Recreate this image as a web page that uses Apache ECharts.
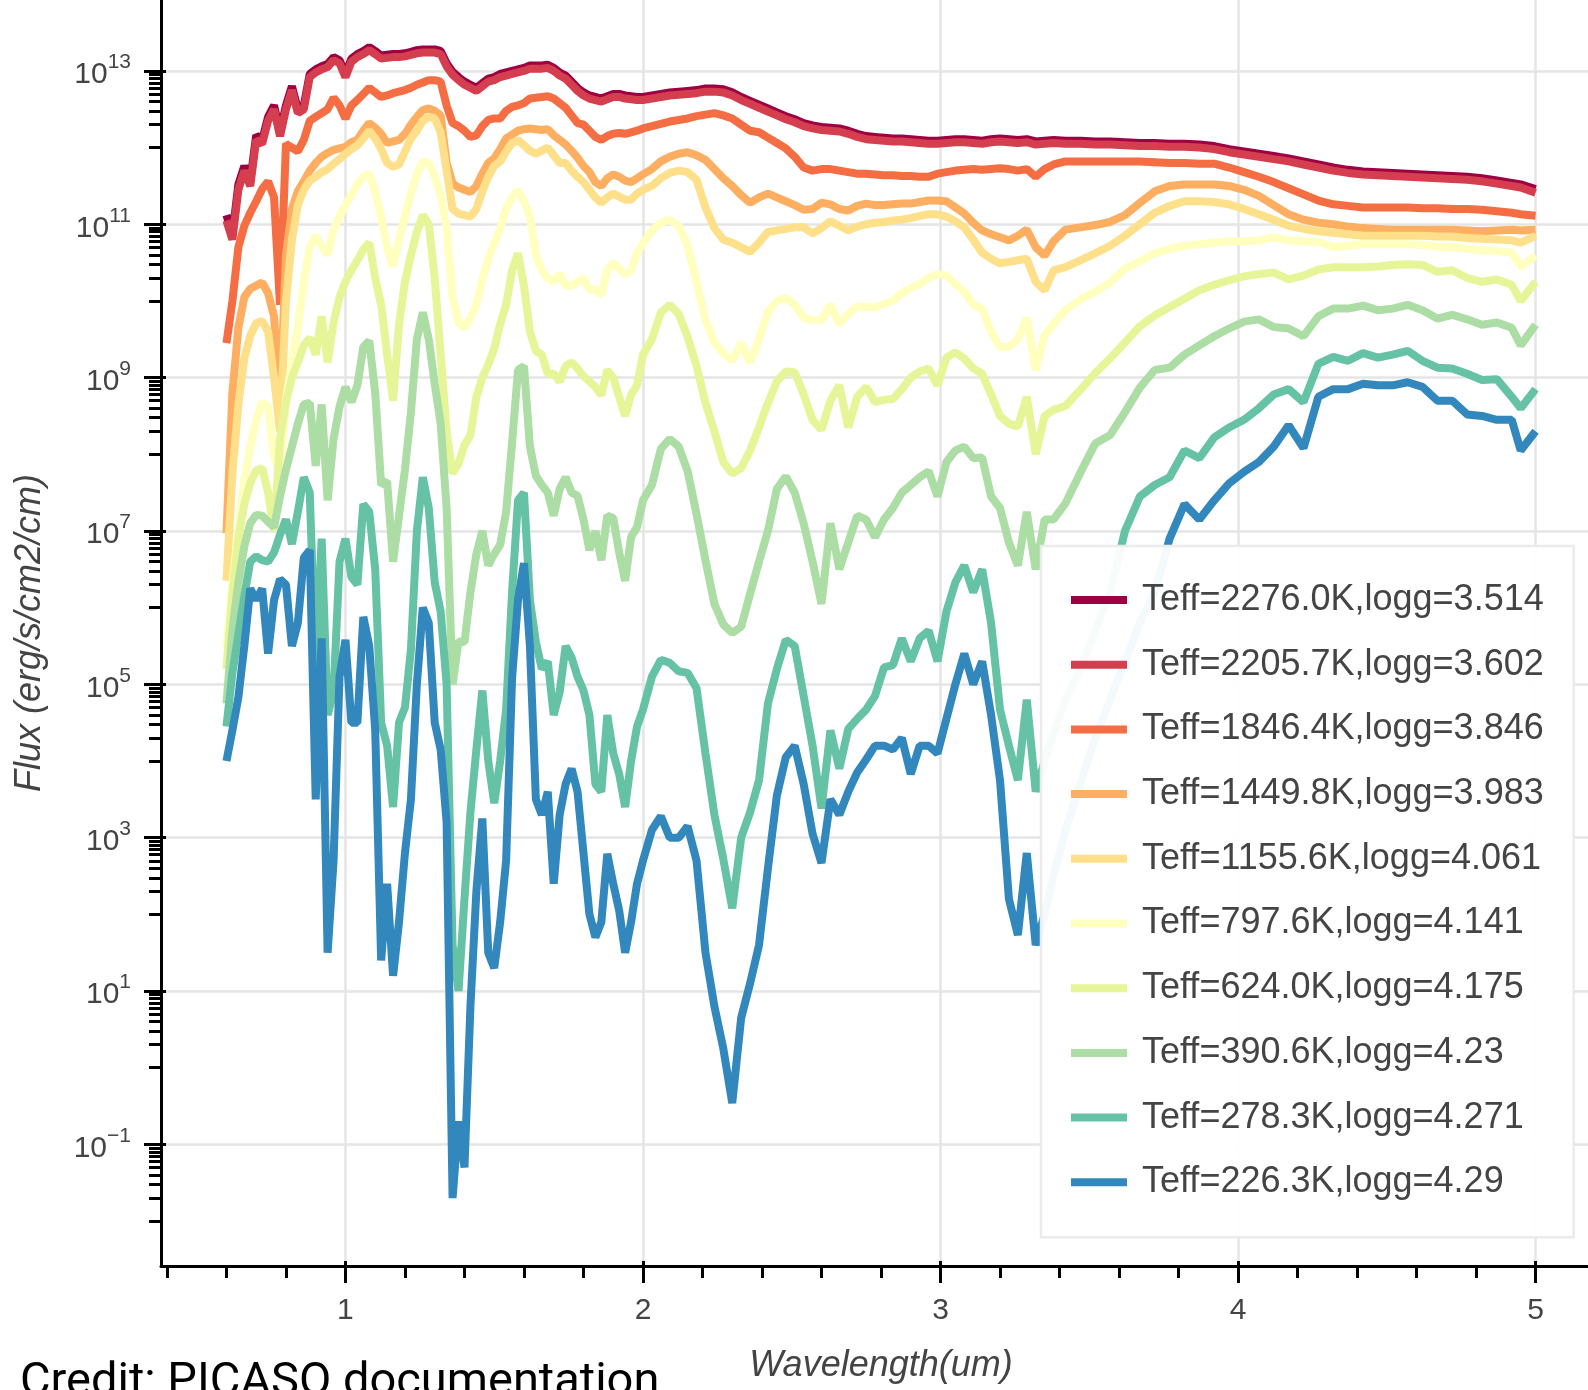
<!DOCTYPE html>
<html>
<head>
<meta charset="utf-8">
<script src="https://cdn.jsdelivr.net/npm/echarts@6/dist/echarts.min.js"></script>
<style>
  html, body { margin: 0; padding: 0; background: #fff; }
  #chart { width: 1588px; height: 1390px; }
</style>
</head>
<body>
<div id="chart"></div>
<script>
// wavelength grid (um), shared by every spectrum
const wavelength = [
  0.60, 0.62, 0.64, 0.66, 0.68, 0.70, 0.72, 0.74, 0.76, 0.78,
  0.80, 0.82, 0.84, 0.86, 0.88, 0.90, 0.92, 0.94, 0.96, 0.98,
  1.00, 1.02, 1.04, 1.06, 1.08, 1.10, 1.12, 1.14, 1.16, 1.18,
  1.20, 1.22, 1.24, 1.26, 1.28, 1.30, 1.32, 1.34, 1.36, 1.38,
  1.40, 1.42, 1.44, 1.46, 1.48, 1.50, 1.52, 1.54, 1.56, 1.58,
  1.60, 1.62, 1.64, 1.66, 1.68, 1.70, 1.72, 1.74, 1.76, 1.78,
  1.80, 1.82, 1.84, 1.86, 1.88, 1.90, 1.92, 1.94, 1.96, 1.98,
  2.00,
  2.03, 2.06, 2.09, 2.12, 2.15, 2.18, 2.21, 2.24, 2.27, 2.30,
  2.33, 2.36, 2.39, 2.42, 2.45, 2.48, 2.51, 2.54, 2.57, 2.60,
  2.63, 2.66, 2.69, 2.72, 2.75, 2.78, 2.81, 2.84, 2.87, 2.90,
  2.93, 2.96, 2.99, 3.02, 3.05, 3.08, 3.11, 3.14, 3.17, 3.20,
  3.23, 3.26, 3.29, 3.32, 3.35, 3.38,
  3.42, 3.47, 3.52, 3.57, 3.62, 3.67, 3.72, 3.77, 3.82, 3.87,
  3.92, 3.97, 4.02, 4.07, 4.12, 4.17, 4.22, 4.27, 4.32, 4.37,
  4.42, 4.47, 4.52, 4.57, 4.62, 4.67, 4.72, 4.77, 4.82, 4.87,
  4.92, 4.95, 5.00
];

// log10 of flux (erg/s/cm2/cm)
const flux2276 = [
  11.12, 10.86, 11.52, 11.76, 11.56, 12.16, 12.1, 12.4, 12.55, 12.2,
  12.55, 12.8, 12.5, 12.55, 12.96, 13.02, 13.06, 13.09, 13.18, 13.14,
  12.96, 13.16, 13.22, 13.26, 13.31, 13.26, 13.2, 13.21, 13.22, 13.22,
  13.23, 13.25, 13.27, 13.28, 13.28, 13.28, 13.26, 13.1, 12.99, 12.92,
  12.86, 12.82, 12.78, 12.84, 12.9, 12.92, 12.96, 12.98, 13.0, 13.02,
  13.04, 13.07, 13.07, 13.07, 13.08, 13.04, 12.98, 12.94, 12.86, 12.78,
  12.72, 12.68, 12.66, 12.64, 12.67, 12.7, 12.7, 12.68, 12.67, 12.66,
  12.66,
  12.68, 12.7, 12.72, 12.73, 12.74, 12.75, 12.77, 12.77, 12.76, 12.72,
  12.66, 12.61, 12.56, 12.51, 12.46, 12.41, 12.37, 12.32, 12.29, 12.27,
  12.26, 12.25, 12.22, 12.18, 12.15, 12.14, 12.13, 12.12, 12.12, 12.11,
  12.1, 12.09, 12.09, 12.1, 12.11, 12.11, 12.1, 12.09, 12.11, 12.12,
  12.11, 12.1, 12.11, 12.08, 12.09, 12.1,
  12.09, 12.09, 12.08, 12.08, 12.07, 12.06, 12.06, 12.05, 12.05, 12.04,
  12.02, 11.98, 11.95, 11.92, 11.89, 11.86, 11.82, 11.78, 11.74, 11.71,
  11.69, 11.68, 11.67, 11.66, 11.65, 11.64, 11.63, 11.62, 11.6, 11.57,
  11.54, 11.52, 11.46
];
const flux2206 = [
  11.05, 10.8, 11.45, 11.7, 11.5, 12.1, 12.05, 12.35, 12.5, 12.15,
  12.5, 12.75, 12.45, 12.5, 12.92, 12.98, 13.02, 13.05, 13.14, 13.1,
  12.92, 13.12, 13.18, 13.22, 13.27, 13.22, 13.16, 13.17, 13.18, 13.18,
  13.19, 13.21, 13.23, 13.24, 13.24, 13.24, 13.22, 13.06, 12.95, 12.88,
  12.82, 12.78, 12.74, 12.8, 12.86, 12.88, 12.92, 12.94, 12.96, 12.98,
  13.0, 13.03, 13.03, 13.03, 13.04, 13.0, 12.94, 12.9, 12.82, 12.74,
  12.68, 12.64, 12.62, 12.6, 12.63, 12.66, 12.66, 12.64, 12.63, 12.62,
  12.62,
  12.64, 12.66, 12.68, 12.69, 12.7, 12.71, 12.73, 12.73, 12.72, 12.68,
  12.62, 12.57, 12.52, 12.47, 12.42, 12.37, 12.33, 12.28, 12.25, 12.23,
  12.22, 12.21, 12.18, 12.14, 12.11, 12.1, 12.09, 12.08, 12.08, 12.07,
  12.06, 12.05, 12.05, 12.06, 12.07, 12.07, 12.06, 12.05, 12.07, 12.08,
  12.07, 12.06, 12.07, 12.04, 12.05, 12.06,
  12.05, 12.05, 12.04, 12.04, 12.03, 12.02, 12.02, 12.01, 12.01, 12.0,
  11.98, 11.94, 11.91, 11.88, 11.85, 11.82, 11.78, 11.74, 11.7, 11.67,
  11.65, 11.64, 11.63, 11.62, 11.61, 11.6, 11.59, 11.58, 11.56, 11.53,
  11.5, 11.48, 11.41
];
const flux1846 = [
  9.45, 10.0, 10.7, 10.98, 11.15, 11.3, 11.46, 11.56, 11.35, 9.95,
  12.05, 12.0, 11.95, 12.1, 12.35, 12.4, 12.45, 12.5, 12.65, 12.55,
  12.38, 12.55, 12.62, 12.7, 12.78, 12.72, 12.66, 12.68, 12.71, 12.73,
  12.75, 12.78, 12.82, 12.85, 12.88, 12.88, 12.86, 12.55, 12.32, 12.28,
  12.22, 12.14, 12.16, 12.28, 12.36, 12.38, 12.38, 12.48, 12.53, 12.55,
  12.58, 12.64, 12.65, 12.66, 12.67, 12.64, 12.58, 12.52, 12.42, 12.32,
  12.3, 12.22, 12.14, 12.1, 12.15, 12.18, 12.19, 12.18, 12.2, 12.22,
  12.25,
  12.28, 12.31, 12.34, 12.36, 12.38, 12.41, 12.43, 12.45, 12.42, 12.38,
  12.3, 12.22, 12.2, 12.13, 12.06, 11.99, 11.88, 11.74, 11.7, 11.72,
  11.72, 11.7, 11.68, 11.66, 11.66, 11.65, 11.64, 11.64, 11.63, 11.63,
  11.62, 11.62, 11.66, 11.68, 11.7, 11.71, 11.72, 11.71, 11.72, 11.73,
  11.72, 11.7, 11.72, 11.62, 11.72, 11.78,
  11.82, 11.82, 11.82, 11.82, 11.82, 11.82, 11.81, 11.8, 11.8, 11.79,
  11.79, 11.74, 11.68, 11.62, 11.55, 11.47, 11.39, 11.31, 11.26, 11.24,
  11.22, 11.22, 11.22, 11.22, 11.21, 11.21, 11.2, 11.2, 11.19, 11.17,
  11.15, 11.13, 11.11
];
const flux1450 = [
  6.97, 8.8, 9.65, 10.05, 10.16, 10.2, 10.24, 10.1, 9.8, 8.6,
  10.6, 11.2, 11.43, 11.56, 11.7, 11.8, 11.88, 11.93, 11.97, 11.99,
  12.01, 12.07, 12.1, 12.22, 12.32, 12.26, 12.18, 12.06, 12.08, 12.1,
  12.18, 12.3, 12.4, 12.49, 12.51, 12.48, 12.42, 11.8, 11.53, 11.48,
  11.45, 11.42, 11.5, 11.66, 11.8, 11.86, 11.98, 12.12, 12.17, 12.22,
  12.24, 12.25, 12.24, 12.23, 12.24, 12.16, 12.1, 12.04, 11.96, 11.87,
  11.76, 11.68, 11.55, 11.5, 11.6, 11.65, 11.62, 11.57, 11.55, 11.6,
  11.65,
  11.72, 11.82, 11.88, 11.92, 11.94, 11.9, 11.84, 11.72, 11.6, 11.5,
  11.38, 11.28, 11.35, 11.4, 11.35, 11.3, 11.25, 11.19, 11.2, 11.28,
  11.26, 11.2, 11.18, 11.24, 11.27, 11.25, 11.25, 11.26, 11.27, 11.27,
  11.29, 11.31, 11.31, 11.3, 11.22, 11.14, 11.02, 10.92, 10.87, 10.83,
  10.79, 10.85, 10.93, 10.7, 10.59, 10.78,
  10.93, 10.96, 10.99, 11.03, 11.12, 11.28, 11.43, 11.5, 11.52, 11.52,
  11.52, 11.5, 11.45, 11.37, 11.25, 11.13, 11.06, 11.02, 11.0, 10.97,
  10.95, 10.94, 10.93, 10.93, 10.93, 10.93, 10.93, 10.92, 10.91, 10.92,
  10.93, 10.92, 10.93
];
const flux1156 = [
  6.35, 7.75, 8.65, 9.25, 9.55, 9.71, 9.74, 9.6, 9.0, 8.3,
  10.0, 10.8, 11.25, 11.45, 11.57, 11.62, 11.68, 11.72, 11.79, 11.85,
  11.92, 11.98, 12.03, 12.12, 12.22, 12.12, 11.98, 11.8, 11.75, 11.78,
  11.95, 12.12, 12.22, 12.35, 12.4, 12.38, 12.2, 11.7, 11.2, 11.14,
  11.12, 11.1, 11.2, 11.43, 11.62, 11.76, 11.82, 11.95, 12.06, 12.1,
  12.03, 11.96, 11.92, 11.96, 12.0, 11.9, 11.8, 11.8, 11.7, 11.62,
  11.55, 11.45, 11.35, 11.28, 11.35, 11.4, 11.36, 11.32, 11.32, 11.4,
  11.45,
  11.5, 11.6, 11.67, 11.7, 11.68, 11.58, 11.22, 10.95, 10.8, 10.76,
  10.7, 10.64, 10.76, 10.9, 10.92, 10.94, 10.96, 10.96, 10.88, 10.95,
  11.04, 10.98, 10.92, 10.97, 11.0, 11.02, 11.03, 11.05, 11.06, 11.08,
  11.11, 11.13, 11.13, 11.1, 11.04, 10.96, 10.8, 10.63, 10.55, 10.49,
  10.51, 10.53, 10.55, 10.25, 10.14, 10.4,
  10.44, 10.53, 10.62, 10.72, 10.85, 11.0, 11.15, 11.24, 11.3, 11.3,
  11.29, 11.26, 11.2, 11.13, 11.06, 10.98, 10.94, 10.91, 10.89, 10.87,
  10.85, 10.85, 10.85, 10.85, 10.85, 10.84, 10.84, 10.82, 10.81, 10.8,
  10.79, 10.76, 10.85
];
const flux798 = [
  5.47, 6.3, 7.0, 7.65, 8.1, 8.45, 8.68, 8.62, 8.0, 7.7,
  8.7, 9.2, 9.65, 10.25, 10.7, 10.85, 10.72, 10.6, 10.92, 11.1,
  11.25, 11.38, 11.52, 11.62, 11.66, 11.42, 11.1, 10.7, 10.45, 10.8,
  11.1, 11.4, 11.65, 11.82, 11.8, 11.62, 11.38, 10.95, 10.05, 9.72,
  9.65, 9.78, 9.95, 10.28, 10.55, 10.75, 10.95, 11.2, 11.35, 11.44,
  11.3, 11.1, 10.6, 10.4, 10.3, 10.25, 10.35, 10.2, 10.2, 10.25,
  10.3, 10.15, 10.15, 10.08, 10.4, 10.5, 10.42, 10.35, 10.4, 10.62,
  10.75,
  10.92, 11.02, 11.06, 10.98, 10.72, 10.25, 9.75, 9.46, 9.32, 9.22,
  9.45, 9.2, 9.5, 9.86, 10.0, 10.04, 9.95, 9.78, 9.75, 9.75,
  9.95, 9.7, 9.83, 9.93, 9.92, 9.92, 9.96, 10.0, 10.1, 10.17,
  10.22, 10.3, 10.35, 10.33, 10.22, 10.12, 9.95, 9.9, 9.6, 9.4,
  9.4, 9.5, 9.78, 9.1, 9.55, 9.7,
  9.88, 10.02, 10.12, 10.24, 10.42, 10.52, 10.62, 10.68, 10.72, 10.74,
  10.76, 10.78, 10.78, 10.79, 10.83, 10.79, 10.78, 10.77, 10.7, 10.72,
  10.74, 10.74, 10.74, 10.74, 10.73, 10.71, 10.7, 10.68, 10.66, 10.65,
  10.63, 10.45, 10.59
];
const flux624 = [
  5.2, 6.2, 6.9, 7.35, 7.63, 7.79, 7.82, 7.5, 7.0, 8.2,
  8.68, 9.0, 9.2, 9.42, 9.52, 9.3, 9.8, 9.2, 9.72, 10.05,
  10.25, 10.4, 10.53, 10.67, 10.76, 10.3, 9.95, 9.3, 8.7, 9.7,
  10.25, 10.6, 10.9, 11.12, 11.0, 10.3, 9.3, 8.3, 7.75, 7.88,
  8.12, 8.25, 8.75, 9.0, 9.17, 9.38, 9.7, 9.95, 10.4, 10.62,
  10.2, 9.6, 9.35, 9.3, 9.05, 9.05, 8.95, 9.15, 9.2, 9.12,
  9.02, 8.95, 8.88, 8.77, 9.1, 9.0, 8.75, 8.5, 8.78, 8.9,
  9.3,
  9.5, 9.85, 9.95, 9.83, 9.53, 9.15, 8.67, 8.3, 7.9, 7.75,
  7.82, 8.05, 8.35, 8.67, 8.95, 9.08, 9.07, 8.78, 8.45, 8.32,
  8.7, 8.9, 8.35, 8.75, 8.88, 8.68, 8.71, 8.72, 8.85, 9.0,
  9.08, 9.12, 8.9, 9.26, 9.33, 9.25, 9.12, 9.05, 8.78, 8.5,
  8.4, 8.36, 8.75, 8.0, 8.5, 8.58,
  8.63, 8.84, 9.06, 9.25, 9.46, 9.67, 9.81, 9.92, 10.03, 10.14,
  10.21, 10.27, 10.32, 10.35, 10.37, 10.28, 10.33, 10.41, 10.44, 10.44,
  10.44, 10.45, 10.47, 10.48, 10.47, 10.38, 10.4, 10.3, 10.25, 10.28,
  10.21, 10.0, 10.25
];
const flux391 = [
  4.75, 5.7, 6.33, 6.8, 7.1, 7.21, 7.2, 7.12, 7.05, 7.45,
  7.8, 8.1, 8.4, 8.65, 8.67, 7.85, 8.65, 7.4, 8.2, 8.62,
  8.88, 8.68, 8.9, 9.4, 9.48, 8.8, 7.6, 7.65, 6.6, 7.2,
  7.8, 8.55, 9.5, 9.85, 9.5, 8.92, 8.4, 7.3, 5.0, 5.56,
  5.55, 6.2, 6.7, 7.0, 6.55, 6.7, 6.82, 7.25, 8.15, 9.1,
  9.15, 8.1, 7.72, 7.6, 7.5, 7.2, 7.55, 7.7, 7.5, 7.46,
  7.15, 6.75, 7.0, 6.62, 7.2, 7.17, 6.72, 6.35, 6.92, 7.05,
  7.4,
  7.6, 8.07, 8.2, 8.1, 7.78, 7.22, 6.62, 6.05, 5.78, 5.67,
  5.75, 6.18, 6.6, 7.0, 7.55, 7.71, 7.5, 7.1, 6.6, 6.05,
  7.1, 6.5, 6.85, 7.2, 7.15, 6.92, 7.15, 7.3, 7.5, 7.6,
  7.7, 7.78, 7.45, 7.9, 8.05, 8.1, 7.95, 7.96, 7.45, 7.3,
  6.85, 6.55, 7.25, 6.5, 7.15, 7.15,
  7.36, 7.76, 8.14, 8.25, 8.55, 8.87, 9.1, 9.13, 9.3, 9.42,
  9.54, 9.64, 9.73, 9.76, 9.66, 9.64, 9.54, 9.8, 9.9, 9.9,
  9.94, 9.88, 9.9, 9.95, 9.88, 9.77, 9.82, 9.76, 9.69, 9.72,
  9.65, 9.42, 9.69
];
const flux278 = [
  4.45, 5.15, 5.65, 6.15, 6.6, 6.67, 6.62, 6.6, 6.72, 6.95,
  7.15, 6.83, 7.25, 7.7, 7.5, 5.2, 6.9, 4.6, 4.9, 6.6,
  6.9, 6.4, 6.3, 7.35, 7.25, 6.5, 4.5, 4.2, 3.4, 4.5,
  4.7, 5.45, 7.0, 7.7, 7.3, 6.33, 5.95, 5.0, 1.6, 1.0,
  2.2, 3.33, 4.15, 4.92, 4.0, 3.45, 4.0, 4.67, 6.2, 7.4,
  7.5, 6.1, 5.55, 5.2, 5.3, 4.6, 4.9, 5.5, 5.35, 5.1,
  4.92, 4.6, 3.7, 3.6, 4.6, 4.1, 3.83, 3.4, 4.0, 4.45,
  4.67,
  5.1, 5.32, 5.28, 5.17, 5.15, 4.95, 4.1, 3.3, 2.72, 2.08,
  3.0, 3.33, 3.75, 4.75, 5.2, 5.58, 5.5, 4.85, 4.2, 3.38,
  4.4, 3.9, 4.42, 4.55, 4.67, 4.85, 5.22, 5.25, 5.6, 5.3,
  5.6, 5.7, 5.3, 5.95, 6.33, 6.55, 6.2, 6.5, 5.8, 4.67,
  4.2, 3.75, 4.8, 3.6, 4.0, 4.35,
  4.8, 5.2, 5.7, 6.2, 7.0, 7.45, 7.6, 7.7, 8.05, 7.95,
  8.22, 8.35, 8.45, 8.6, 8.78, 8.85, 8.68, 9.18, 9.27, 9.22,
  9.32, 9.26, 9.3, 9.35, 9.22, 9.13, 9.12, 9.05, 8.97, 8.98,
  8.75, 8.6, 8.85
];
const flux226 = [
  4.0, 4.4, 4.83, 5.5, 6.25, 6.1, 6.25, 5.4, 6.1, 6.37,
  6.3, 5.5, 5.8, 6.65, 6.75, 3.5, 5.6, 1.5, 2.7, 5.1,
  5.58, 4.5, 4.5, 5.88, 5.5, 4.4, 1.4, 2.4, 1.2, 1.9,
  2.8, 3.5, 5.0, 6.0, 5.8, 4.5, 4.15, 3.2, -1.7, -0.7,
  -1.3, 0.8, 2.3, 3.25, 1.5, 1.3, 1.9, 2.7, 5.08, 6.1,
  6.58, 5.5, 3.5, 3.3, 3.6, 2.4, 3.3, 3.7, 3.9, 3.6,
  2.8, 2.0, 1.7, 1.9, 2.79, 2.4, 2.05, 1.5, 1.9, 2.4,
  2.7,
  3.1, 3.28, 3.0, 3.0, 3.15, 2.7, 1.5, 0.8, 0.25, -0.46,
  0.65, 1.1, 1.6, 2.6, 3.55, 4.05, 4.2, 3.7, 3.05, 2.67,
  3.5, 3.3, 3.6, 3.85, 4.02, 4.2, 4.2, 4.15, 4.3, 3.83,
  4.2, 4.2, 4.1, 4.55, 5.0, 5.4, 5.0, 5.3, 4.6, 3.75,
  2.2, 1.73, 2.8, 1.6, 2.0, 2.5,
  3.1, 3.7, 4.3, 4.8, 5.3, 5.8, 6.2, 6.9, 7.35, 7.15,
  7.4, 7.62, 7.77, 7.9, 8.1, 8.38, 8.08, 8.75, 8.85, 8.85,
  8.92, 8.9, 8.9, 8.94, 8.88, 8.7, 8.7, 8.52, 8.5, 8.45,
  8.45, 8.05, 8.3
];

const labels = [
  "Teff=2276.0K,logg=3.514", "Teff=2205.7K,logg=3.602", "Teff=1846.4K,logg=3.846",
  "Teff=1449.8K,logg=3.983", "Teff=1155.6K,logg=4.061", "Teff=797.6K,logg=4.141",
  "Teff=624.0K,logg=4.175", "Teff=390.6K,logg=4.23", "Teff=278.3K,logg=4.271",
  "Teff=226.3K,logg=4.29"
];
const colors = ["#9e0142", "#d53e4f", "#f46d43", "#fdae61", "#fee08b",
                "#ffffbf", "#e6f598", "#abdda4", "#66c2a5", "#3288bd"];
const spectra = [flux2276, flux2206, flux1846, flux1450, flux1156,
                 flux798, flux624, flux391, flux278, flux226];

// ticks (exponents on the y axis, um on the x axis)
const majorY = [-1, 1, 3, 5, 7, 9, 11, 13];
const majorX = [1, 2, 3, 4, 5];
const minorY = [];
for (let m = -2; m <= 12; m += 2) {
  for (let k = 1; k <= 9; k++) minorY.push(m + Math.log10(k));
}
const minorX = [];
for (let i = 2; i <= 26; i++) if (i % 5) minorX.push(i / 5);

const FONT = "Liberation Sans";
const textGrey = "#444";

const chart = echarts.init(document.getElementById("chart"), null, { renderer: "canvas" });

const series = spectra.map((f, i) => ({
  name: labels[i],
  type: "line",
  color: colors[i],
  symbol: "none",
  showSymbol: false,
  silent: true,
  lineStyle: { width: 8, cap: "butt", join: "bevel" },
  data: wavelength.map((w, j) => [w, f[j]])
}));

const tickLine = { color: "#000", width: 3 };
const xRange = { min: 0.38, max: 5.22 };
const yRange = { min: -2.586, max: 13.925 };

chart.setOption({
  animation: false,
  backgroundColor: "#fff",
  textStyle: { fontFamily: FONT },
  grid: { left: 161, top: 0, width: 1440, height: 1266, outerBoundsMode: "none" },
  xAxis: [
    {
      type: "value", position: "bottom", ...xRange,
      axisLine: { onZero: false, lineStyle: { color: "#000", width: 3 } },
      axisTick: { customValues: majorX, length: 17, lineStyle: tickLine },
      axisLabel: { customValues: majorX, margin: 30, fontSize: 30, color: textGrey, fontFamily: FONT },
      splitLine: { show: true, lineStyle: { color: "#e5e5e5", width: 2.5 } },
      name: "Wavelength(um)", nameLocation: "middle", nameGap: 82, nameMoveOverlap: false,
      nameTextStyle: { fontSize: 36, fontStyle: "italic", color: textGrey, fontFamily: FONT }
    },
    {
      type: "value", position: "bottom", ...xRange,
      axisLine: { show: false, onZero: false },
      axisTick: { customValues: minorX, length: 12, lineStyle: tickLine },
      axisLabel: { show: false }, splitLine: { show: false }
    },
    {
      type: "value", position: "bottom", ...xRange,
      axisLine: { show: false, onZero: false },
      axisTick: { customValues: majorX, inside: true, length: 5, lineStyle: tickLine },
      axisLabel: { show: false }, splitLine: { show: false }
    }
  ],
  yAxis: [
    {
      type: "value", position: "left", ...yRange,
      axisLine: { onZero: false, lineStyle: { color: "#000", width: 3 } },
      axisTick: { customValues: majorY, length: 17, lineStyle: tickLine },
      axisLabel: {
        customValues: majorY, margin: 30, color: textGrey, fontFamily: FONT,
        formatter: v => {
          const e = Math.round(v);
          return "{b|10}{s|" + (e < 0 ? "\u2212" + (-e) : e) + "}";
        },
        rich: {
          b: { fontSize: 30, lineHeight: 38, verticalAlign: "bottom", color: textGrey, fontFamily: FONT },
          s: { fontSize: 21, lineHeight: 21, verticalAlign: "top", color: textGrey, fontFamily: FONT }
        }
      },
      splitLine: { show: true, lineStyle: { color: "#e5e5e5", width: 2.5 } },
      name: "Flux (erg/s/cm2/cm)", nameLocation: "middle", nameGap: 113, nameMoveOverlap: false,
      nameTextStyle: { fontSize: 36, fontStyle: "italic", color: textGrey, fontFamily: FONT }
    },
    {
      type: "value", position: "left", ...yRange,
      axisLine: { show: false, onZero: false },
      axisTick: { customValues: minorY, length: 12, lineStyle: tickLine },
      axisLabel: { show: false }, splitLine: { show: false }
    },
    {
      type: "value", position: "left", ...yRange,
      axisLine: { show: false, onZero: false },
      axisTick: { customValues: majorY, inside: true, length: 5, lineStyle: tickLine },
      axisLabel: { show: false }, splitLine: { show: false }
    }
  ],
  legend: {
    data: labels,
    orient: "vertical",
    left: 1041,
    top: 546,
    padding: [36, 30, 37, 30],
    itemGap: 28.7,
    itemWidth: 56,
    itemHeight: 8,
    icon: "rect",
    selectedMode: false,
    backgroundColor: "rgba(255,255,255,0.95)",
    borderColor: "#ebebeb",
    borderWidth: 2.5,
    textStyle: { fontSize: 36, lineHeight: 36, color: textGrey, fontFamily: FONT, padding: [0, 0, 0, 10] }
  },
  graphic: [
    {
      type: "text", left: 20, top: 1360, z: 100,
      style: { text: "Credit: PICASO documentation", fontSize: 47, fontFamily: "Roboto", fill: "#000" }
    }
  ],
  series: series
});
</script>
</body>
</html>
